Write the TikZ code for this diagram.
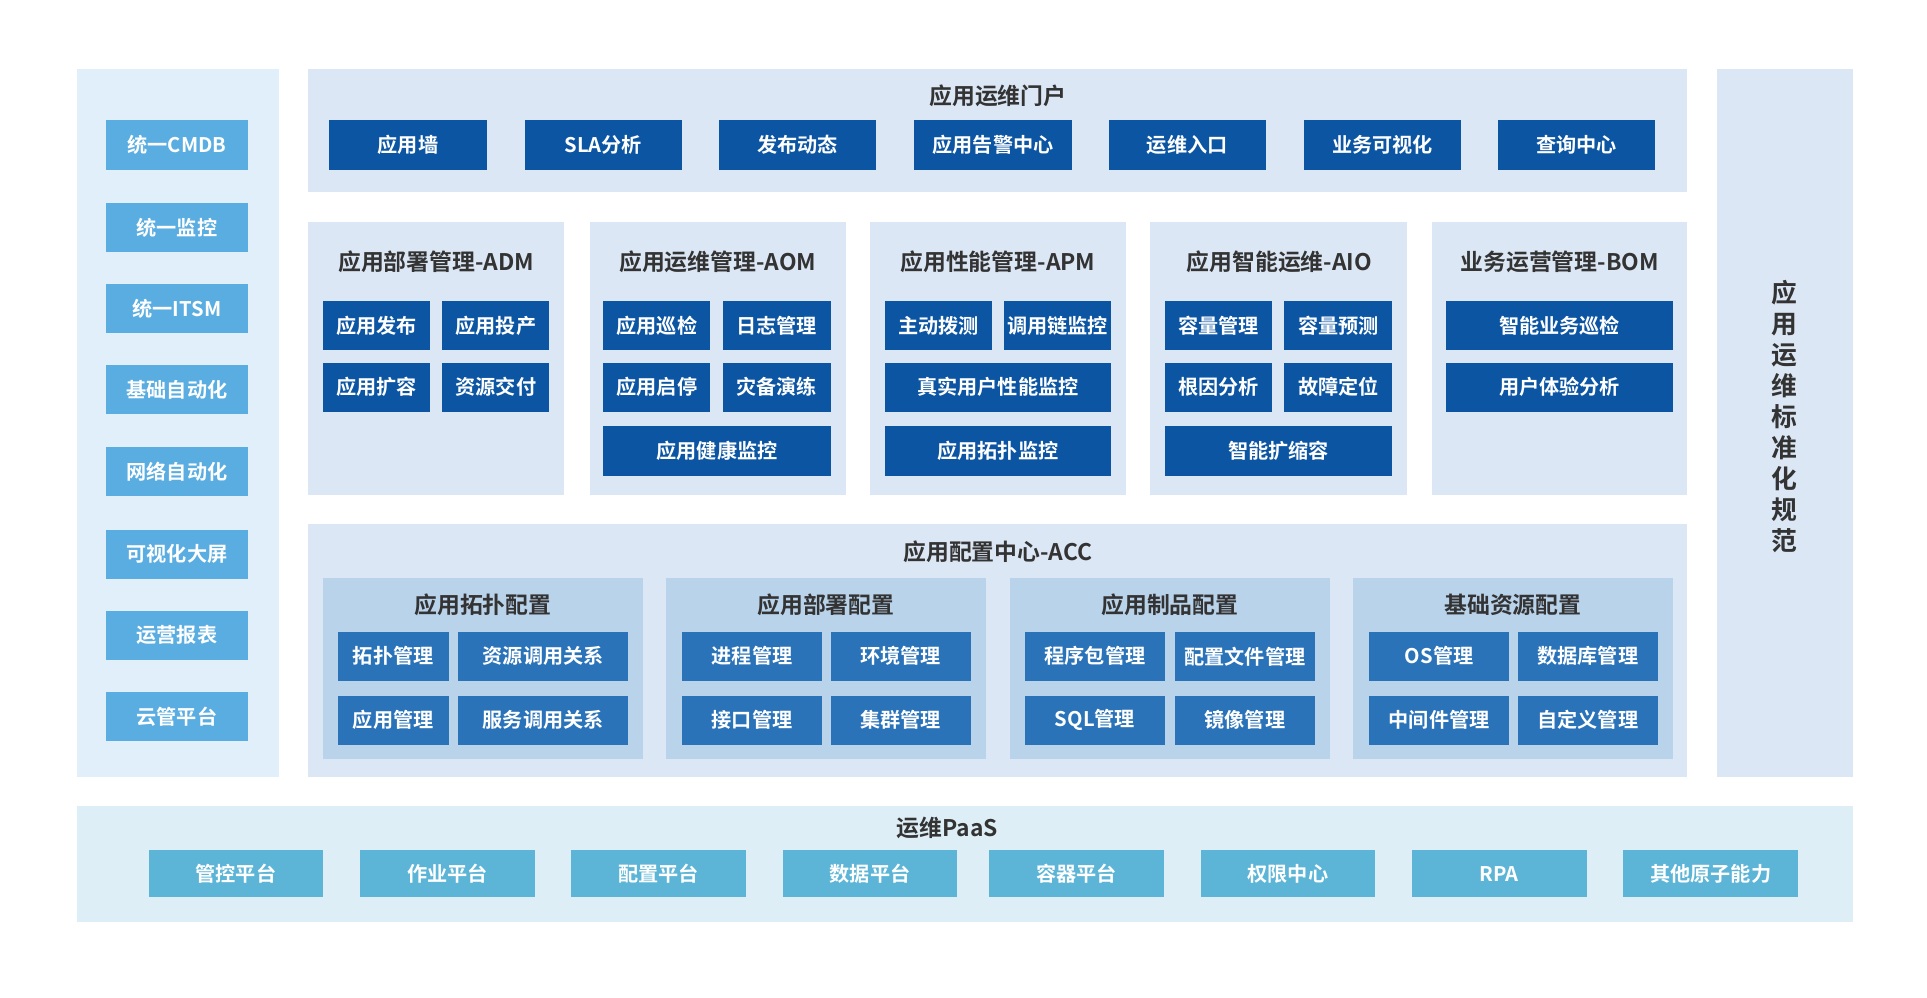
\documentclass[tikz,border=0pt]{standalone}
\usepackage{fontspec}
\setmainfont{Noto Sans CJK SC}[BoldFont={Noto Sans CJK SC Bold}]
\definecolor{panel}{HTML}{DCE7F5}
\definecolor{lpanel}{HTML}{E1EFFA}
\definecolor{ppanel}{HTML}{DDEEF6}
\definecolor{subp}{HTML}{B9D3EB}
\definecolor{dark}{HTML}{0C55A3}
\definecolor{mid}{HTML}{2A73B9}
\definecolor{lite}{HTML}{5AADE1}
\definecolor{paas}{HTML}{5CB5D6}
\definecolor{tt}{HTML}{333333}
\begin{document}
\begin{tikzpicture}[x=0.5pt,y=-0.5pt,
  bx/.style={inner sep=0,font=\bfseries\fontsize{8.2}{9}\selectfont,text=white},
  ttl/.style={font=\bfseries\fontsize{9.3}{10}\selectfont,text=tt}]
\useasboundingbox (0,0) rectangle (1568,812);
\fill[white] (0,0) rectangle (1568,812);
\newcommand\bb[6]{\fill[#1] (#2,#3) rectangle (#4,#5); \node[bx] at ({(#2+#4)/2},{(#3+#5)/2}) {#6};}
% panels
\fill[lpanel] (63,56) rectangle (227,632);
\fill[panel] (1397,56) rectangle (1508,632);
\fill[panel] (251,56) rectangle (1373,156);
\foreach \a/\b in {251/459,480/688,708/916,936/1145,1165/1373} \fill[panel] (\a,181) rectangle (\b,403);
\fill[panel] (251,426) rectangle (1373,632);
\foreach \a/\b in {263/523,542/802,822/1082,1101/1361} \fill[subp] (\a,470) rectangle (\b,618);
\fill[ppanel] (63,656) rectangle (1508,750);
% left
\bb{lite}{86}{98}{202}{138}{统一CMDB}
\bb{lite}{86}{165}{202}{205}{统一监控}
\bb{lite}{86}{231}{202}{271}{统一ITSM}
\bb{lite}{86}{297}{202}{337}{基础自动化}
\bb{lite}{86}{364}{202}{404}{网络自动化}
\bb{lite}{86}{431}{202}{471}{可视化大屏}
\bb{lite}{86}{497}{202}{537}{运营报表}
\bb{lite}{86}{563}{202}{603}{云管平台}
% right
\node[ttl,align=center,font=\bfseries\fontsize{10.5}{12.6}\selectfont] (std) at (1452,339) {应\\用\\运\\维\\标\\准\\化\\规\\范};
% portal
\node[ttl] (portal) at (812,78) {应用运维门户};
\bb{dark}{268}{98}{396}{138}{应用墙}
\bb{dark}{427}{98}{555}{138}{SLA分析}
\bb{dark}{585}{98}{713}{138}{发布动态}
\bb{dark}{744}{98}{872}{138}{应用告警中心}
\bb{dark}{902}{98}{1030}{138}{运维入口}
\bb{dark}{1061}{98}{1189}{138}{业务可视化}
\bb{dark}{1219}{98}{1347}{138}{查询中心}
% middle
\node[ttl] (adm) at (355,213) {应用部署管理-ADM};
\node[ttl] (aom) at (584,213) {应用运维管理-AOM};
\node[ttl] (apm) at (812,213) {应用性能管理-APM};
\node[ttl] (aio) at (1041,213) {应用智能运维-AIO};
\node[ttl] (bom) at (1269,213) {业务运营管理-BOM};
\bb{dark}{263}{245}{350}{285}{应用发布}
\bb{dark}{360}{245}{447}{285}{应用投产}
\bb{dark}{263}{295}{350}{335}{应用扩容}
\bb{dark}{360}{295}{447}{335}{资源交付}
\bb{dark}{491}{245}{578}{285}{应用巡检}
\bb{dark}{588}{245}{676}{285}{日志管理}
\bb{dark}{491}{295}{578}{335}{应用启停}
\bb{dark}{588}{295}{676}{335}{灾备演练}
\bb{dark}{491}{347}{676}{387}{应用健康监控}
\bb{dark}{720}{245}{807}{285}{主动拨测}
\bb{dark}{817}{245}{904}{285}{调用链监控}
\bb{dark}{720}{295}{904}{335}{真实用户性能监控}
\bb{dark}{720}{347}{904}{387}{应用拓扑监控}
\bb{dark}{948}{245}{1035}{285}{容量管理}
\bb{dark}{1045}{245}{1133}{285}{容量预测}
\bb{dark}{948}{295}{1035}{335}{根因分析}
\bb{dark}{1045}{295}{1133}{335}{故障定位}
\bb{dark}{948}{347}{1133}{387}{智能扩缩容}
\bb{dark}{1177}{245}{1361}{285}{智能业务巡检}
\bb{dark}{1177}{295}{1361}{335}{用户体验分析}
% ACC
\node[ttl] (acc) at (812,449) {应用配置中心-ACC};
\node[ttl] (s1) at (393,492) {应用拓扑配置};
\node[ttl] (s2) at (672,492) {应用部署配置};
\node[ttl] (s3) at (952,492) {应用制品配置};
\node[ttl] (s4) at (1231,492) {基础资源配置};
\bb{mid}{275}{514}{365}{554}{拓扑管理}
\bb{mid}{373}{514}{511}{554}{资源调用关系}
\bb{mid}{275}{566}{365}{606}{应用管理}
\bb{mid}{373}{566}{511}{606}{服务调用关系}
\bb{mid}{555}{514}{669}{554}{进程管理}
\bb{mid}{676}{514}{790}{554}{环境管理}
\bb{mid}{555}{566}{669}{606}{接口管理}
\bb{mid}{676}{566}{790}{606}{集群管理}
\bb{mid}{834}{514}{948}{554}{程序包管理}
\bb{mid}{956}{514}{1070}{554}{配置文件管理}
\bb{mid}{834}{566}{948}{606}{SQL管理}
\bb{mid}{956}{566}{1070}{606}{镜像管理}
\bb{mid}{1114}{514}{1228}{554}{OS管理}
\bb{mid}{1235}{514}{1349}{554}{数据库管理}
\bb{mid}{1114}{566}{1228}{606}{中间件管理}
\bb{mid}{1235}{566}{1349}{606}{自定义管理}
% PaaS
\node[ttl] (paast) at (771,674) {运维PaaS};
\bb{paas}{121}{692}{263}{730}{管控平台}
\bb{paas}{293}{692}{435}{730}{作业平台}
\bb{paas}{465}{692}{607}{730}{配置平台}
\bb{paas}{637}{692}{779}{730}{数据平台}
\bb{paas}{805}{692}{947}{730}{容器平台}
\bb{paas}{977}{692}{1119}{730}{权限中心}
\bb{paas}{1149}{692}{1291}{730}{RPA}
\bb{paas}{1321}{692}{1463}{730}{其他原子能力}
\end{tikzpicture}
\end{document}
